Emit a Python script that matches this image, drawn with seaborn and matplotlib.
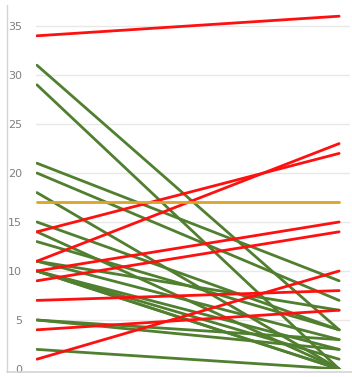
import pandas as pd
import matplotlib.pyplot as plt
import seaborn as sns
from matplotlib.lines import Line2D

# Slope chart values: start -> end for each item
green_start = [31, 29, 21, 20, 18, 15, 14, 13, 11, 11, 10, 10, 10, 10, 5, 5, 2]
green_end = [4, 0, 9, 7, 0, 4, 0, 4, 6, 3, 2, 1, 0, 0, 3, 2, 0]
red_start = [34, 14, 11, 10, 9, 7, 4, 1]
red_end = [36, 22, 23, 15, 14, 8, 6, 10]
gold_start = [17]
gold_end = [17]
y_ticks = [0, 5, 10, 15, 20, 25, 30, 35]

rows = []
for group, starts, ends in [('down', green_start, green_end),
                            ('up', red_start, red_end),
                            ('flat', gold_start, gold_end)]:
    for i, (s, e) in enumerate(zip(starts, ends)):
        rows.append({'item': f'{group}{i}', 'group': group, 'pos': 0, 'value': s})
        rows.append({'item': f'{group}{i}', 'group': group, 'pos': 1, 'value': e})
df = pd.DataFrame(rows)

sns.set_style('white')
fig = plt.figure(figsize=(3.52, 3.77), dpi=100)
ax = fig.add_axes([36 / 352, 8 / 377, 314 / 352, 362.6 / 377])

palette = {'down': '#4f7f2f', 'up': '#ff1010', 'flat': '#dba42a'}
for group in ['down', 'up', 'flat']:
    sns.lineplot(data=df[df['group'] == group], x='pos', y='value', units='item',
                 estimator=None, color=palette[group], linewidth=2.0, ax=ax,
                 legend=False)

ax.set_xlim(-0.003, 1.036)
ax.set_ylim(0, 37)
ax.set_yticks(y_ticks)
ax.set_xticks([])
ax.set_xlabel('')
ax.set_ylabel('')
ax.grid(axis='y', color='#e8e8e8', linewidth=1.0)
ax.set_axisbelow(True)
for s in ax.spines.values():
    s.set_visible(False)
ax.tick_params(axis='y', length=0, pad=10, labelsize=8, labelcolor='#7f7f7f')

# faint frame on the left and bottom
fig.add_artist(Line2D([7 / 352, 7 / 352], [5 / 377, 372 / 377],
                      color='#d4d4d4', linewidth=1.0))
fig.add_artist(Line2D([7 / 352, 1.0], [5 / 377, 5 / 377],
                      color='#d4d4d4', linewidth=1.2))

plt.savefig('out.png', dpi=100)
plt.close()
